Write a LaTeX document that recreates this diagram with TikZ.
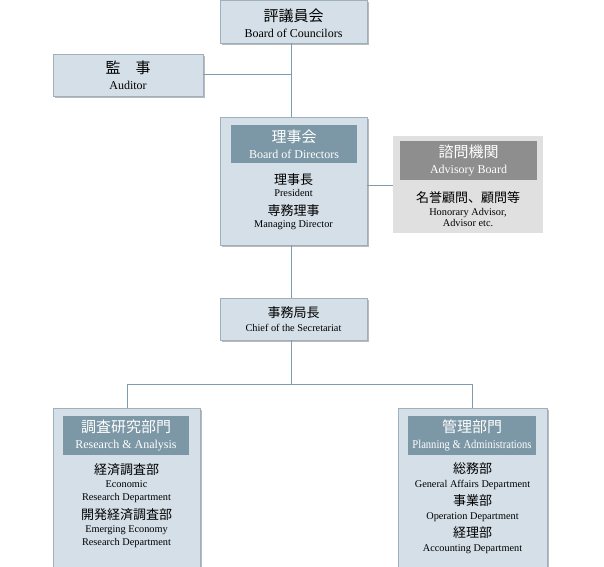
\documentclass[tikz,border=0pt]{standalone}
\usepackage{fontspec}
\usepackage{graphicx}
\setmainfont{Liberation Serif}
\newfontfamily\jp{Noto Sans CJK JP}
\usetikzlibrary{shadows}
\definecolor{boxfill}{HTML}{D4DFE7}
\definecolor{boxline}{HTML}{9FB0BC}
\definecolor{headfill}{HTML}{7C97A6}
\definecolor{grayfill}{HTML}{E0E0E0}
\definecolor{grayhead}{HTML}{8E8E8E}
\definecolor{conn}{HTML}{7F9BAE}
\tikzset{
  box/.style={draw=boxline, fill=boxfill, line width=0.6pt, rectangle, inner sep=0pt,
    drop shadow={shadow xshift=2pt, shadow yshift=-2pt, opacity=0.45, fill=black!60}},
  graybox/.style={draw=none, fill=grayfill, rectangle, inner sep=0pt},
  head/.style={fill=headfill, rectangle, inner sep=0pt, text=white, align=center, font=\fontsize{10}{12}\selectfont},
  grayhead/.style={fill=grayhead, rectangle, inner sep=0pt, text=white, align=center, font=\fontsize{10}{12}\selectfont},
  txt/.style={align=center, inner sep=0pt, text=black, font=\fontsize{10}{12}\selectfont},
  line/.style={draw=conn, line width=0.6pt},
}
\newcommand{\JH}[1]{{\jp\fontsize{15}{17}\selectfont #1}}
\newcommand{\JB}[1]{{\jp\fontsize{13}{15}\selectfont #1}}
\newcommand{\EH}[1]{{\fontsize{12}{14}\selectfont #1}}
\newcommand{\EB}[1]{{\fontsize{10.3}{12}\selectfont #1}}
\begin{document}
\begin{tikzpicture}[x=1pt,y=-1pt]
\useasboundingbox[fill=white] (0,0) rectangle (604,566);
\coordinate (jl) at (127,384);
\coordinate (jr) at (472,384);
\coordinate (jm) at (291,384);
\coordinate (ja) at (291,74);
\coordinate (jv) at (291,185);
% boxes
\node[box, minimum width=147pt, minimum height=43pt] (council) at (293.5,21.5) {};
\node[box, minimum width=150pt, minimum height=42pt] (auditor) at (128,75) {};
\node[box, minimum width=147pt, minimum height=128pt] (directors) at (293.5,181) {};
\node[graybox, minimum width=150pt, minimum height=97pt] (advisory) at (468,184.5) {};
\node[box, minimum width=147pt, minimum height=42pt] (secretariat) at (293.5,319) {};
\node[box, minimum width=147pt, minimum height=170pt] (research) at (126.5,493) {};
\node[box, minimum width=149pt, minimum height=170pt] (planning) at (472.5,493) {};
% lines
\draw[line] (council.south -| ja) -- (directors.north -| ja);
\draw[line] (auditor.east |- ja) -- (ja);
\draw[line] (directors.east |- jv) -- (advisory.west |- jv);
\draw[line] (directors.south -| ja) -- (secretariat.north -| ja);
\draw[line] (secretariat.south -| jm) -- (jm);
\draw[line] (jl) -- (jr);
\draw[line] (jl) -- (research.north -| jl);
\draw[line] (jr) -- (planning.north -| jr);
% texts
\node[txt] (councilt) at (293.5,23.5) {\JH{評議員会}\\[4pt]\EH{Board of Councilors}};
\node[txt] (auditort) at (128,75.5) {\JH{監\hspace{1em}事}\\[4pt]\EH{Auditor}};
\node[head, minimum width=126pt, minimum height=38pt] (dirhead) at (294,144) {\JH{理事会}\\[4pt]\EH{Board of Directors}};
\node[txt] (dirt) at (293.5,201.5) {\JB{理事長}\\[0pt]\EB{President}\\[7pt]\JB{専務理事}\\[0pt]\EB{Managing Director}};
\node[grayhead, minimum width=137pt, minimum height=39pt] (advhead) at (468.5,160.5) {\JH{諮問機関}\\[4pt]\EH{Advisory Board}};
\node[txt] (advt) at (468,209.5) {\JB{名誉顧問、顧問等}\\[1pt]\EB{Honorary Advisor,}\\[-1pt]\EB{Advisor etc.}};
\node[txt] (secrt) at (293.5,319.5) {\JB{事務局長}\\[2pt]\EB{Chief of the Secretariat}};
\node[head, minimum width=126pt, minimum height=39pt] (reshead) at (126,435.5) {\JH{調査研究部門}\\[4pt]\EH{Research \& Analysis}};
\node[txt] (rest) at (126.5,505.5) {\JB{経済調査部}\\[1pt]\EB{Economic}\\[1pt]\EB{Research Department}\\[5pt]\JB{開発経済調査部}\\[1pt]\EB{Emerging Economy}\\[1pt]\EB{Research Department}};
\node[head, minimum width=128pt, minimum height=39pt] (planhead) at (472,435.5) {\JH{管理部門}\\[4pt]\scalebox{0.88}[1]{\EH{Planning \& Administrations}}};
\node[txt] (plant) at (472.5,508.5) {\JB{総務部}\\[2pt]\EB{General Affairs Department}\\[4pt]\JB{事業部}\\[2pt]\EB{Operation Department}\\[4pt]\JB{経理部}\\[2pt]\EB{Accounting Department}};
\end{tikzpicture}
\end{document}
